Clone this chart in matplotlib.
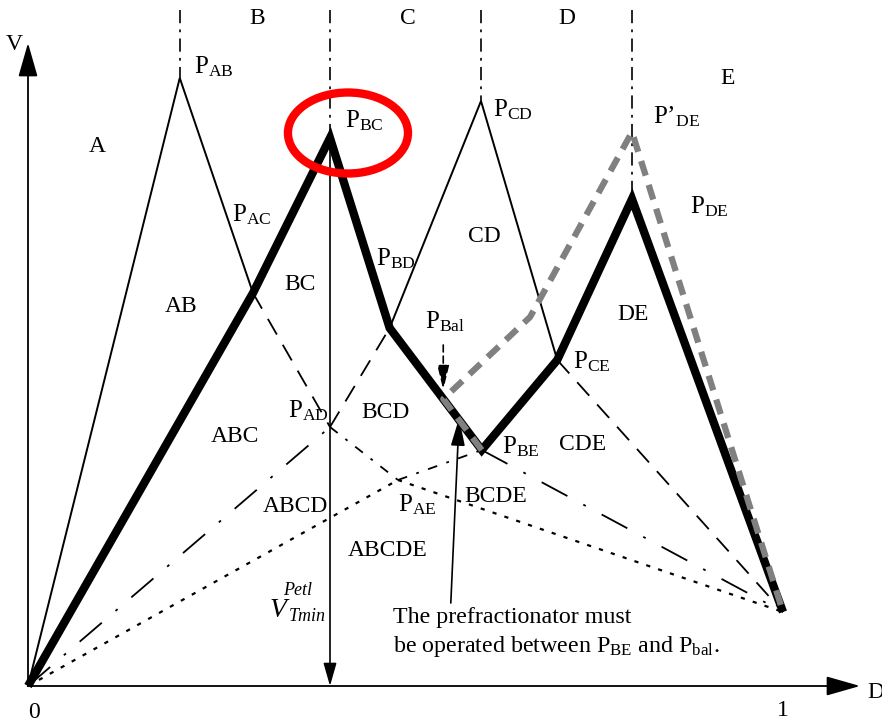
import matplotlib
matplotlib.use('Agg')
import matplotlib.pyplot as plt
from matplotlib.patches import Ellipse

plt.rcParams['font.family'] = ['Liberation Serif', 'DejaVu Serif']
plt.rcParams['mathtext.fontset'] = 'custom'
plt.rcParams['mathtext.rm'] = 'Liberation Serif'
plt.rcParams['mathtext.it'] = 'Liberation Serif:italic'
plt.rcParams['lines.scale_dashes'] = False

# Vmin diagram points, (D, V)
origin = (0.0, 0.0)
p_ab = (0.201, 6.08)
p_ac = (0.298, 3.93)
p_bc = (0.400, 5.48)
p_ad = (0.400, 2.59)
p_bd = (0.479, 3.58)
p_ae = (0.490, 2.06)
p_cd = (0.600, 5.85)
p_be = (0.601, 2.36)
p_ce = (0.701, 3.26)
p_de = (0.800, 4.87)
p_de2 = (0.800, 5.54)     # P'_DE
p_bal = (0.550, 2.87)
p_kink = (0.665, 3.69)    # bend of the prefractionator path
end = (1.0, 0.74)
v_top = 6.76              # top of the vertical split lines

# line groups
thin_solid = [[origin, p_ab, p_ac], [p_bd, p_cd, p_ce]]
dashed = [[p_ac, p_ad], [p_ad, p_bd], [p_ce, end]]
long_dashdot = [[origin, p_ad], [p_be, end]]
short_dashdot = [[p_ad, p_ae], [p_ae, p_be]]
dotted = [[origin, p_ae], [p_ae, end]]
bold = [origin, p_ac, p_bc, p_bd, p_be, p_ce, p_de, end]
grey_path = [p_be, p_bal, p_kink, p_de2, end]
peaks = [p_ab, p_bc, p_cd, p_de]

fig = plt.figure(figsize=(8.82, 7.24), dpi=100)
ax = fig.add_axes([0, 0, 1, 1])
ax.set_xlim(-28 / 755, 854 / 755)
ax.set_ylim(-0.38, 6.86)
ax.axis('off')


def draw(pts, **kw):
    xs = [p[0] for p in pts]
    ys = [p[1] for p in pts]
    ax.plot(xs, ys, color='black', **kw)


for seg in thin_solid:
    draw(seg, lw=1.4, solid_joinstyle='miter')
for seg in dashed:
    draw(seg, lw=1.3, ls=(0, (13, 8.5)))
for seg in long_dashdot:
    draw(seg, lw=1.3, ls=(0, (21, 13, 2, 13)))
for seg in short_dashdot:
    draw(seg, lw=1.3, ls=(0, (7, 7, 2, 7)))
for seg in dotted:
    draw(seg, lw=1.6, ls=(0, (3, 6)))

# vertical split lines above the peaks
for p in peaks:
    draw([(p[0], v_top), p], lw=1.2, ls=(0, (9.5, 4.5, 2, 4.5)))

draw(bold, lw=6, solid_joinstyle='miter', solid_capstyle='butt', zorder=3)
xs = [p[0] for p in grey_path]
ys = [p[1] for p in grey_path]
ax.plot(xs, ys, color='#808080', lw=4.5, ls=(0, (11, 7)),
        dash_capstyle='butt', zorder=4)

# axes arrows
arrow = dict(arrowstyle='-|>,head_length=21,head_width=6', mutation_scale=1,
             color='black', lw=1.3, shrinkA=0, shrinkB=0)
ax.annotate('', xy=(0, 6.43), xytext=origin, arrowprops=arrow)
ax.annotate('', xy=(1.102, 0), xytext=origin, arrowprops=arrow)

# V_Tmin arrow from P_BC down to the D axis
ax.annotate('', xy=(p_bc[0], 0), xytext=p_bc,
            arrowprops=dict(arrowstyle='-|>,head_length=14,head_width=4',
                            mutation_scale=1, color='black', lw=1.2,
                            shrinkA=0, shrinkB=0))

# P_Bal pointer
ax.annotate('', xy=(p_bal[0], 2.96), xytext=(p_bal[0], 3.41),
            arrowprops=dict(arrowstyle='-|>,head_length=15,head_width=3.6',
                            mutation_scale=1, color='black', lw=1.2,
                            ls=(0, (5, 3)), shrinkA=0, shrinkB=0))

# note arrow
ax.annotate('', xy=(0.571, 2.68), xytext=(0.560, 0.83),
            arrowprops=dict(arrowstyle='-|>,head_length=17,head_width=4.3',
                            mutation_scale=1, color='black', lw=1.2,
                            shrinkA=0, shrinkB=0))

ax.add_patch(Ellipse((0.4238, 5.53), 0.159, 0.81, fill=False,
                     edgecolor='red', lw=6, zorder=5))

# region labels
regions = {
    'A': (0.0914, 5.39), 'B': (0.303, 6.68), 'C': (0.503, 6.68),
    'D': (0.714, 6.68), 'E': (0.926, 6.07),
    'AB': (0.203, 3.80), 'BC': (0.360, 4.01), 'CD': (0.605, 4.49),
    'DE': (0.801, 3.72), 'ABC': (0.274, 2.50), 'BCD': (0.473, 2.74),
    'CDE': (0.734, 2.42), 'ABCD': (0.354, 1.79), 'BCDE': (0.619, 1.90),
    'ABCDE': (0.477, 1.36),
}
for name, (x, y) in regions.items():
    ax.text(x, y, name, fontsize=17, ha='center', va='center')

# pinch point labels
pinch = [
    ('P$_{\\mathrm{AB}}$', 0.220, 6.13),
    ('P$_{\\mathrm{AC}}$', 0.270, 4.65),
    ('P$_{\\mathrm{BC}}$', 0.420, 5.59),
    ('P$_{\\mathrm{BD}}$', 0.461, 4.21),
    ('P$_{\\mathrm{CD}}$', 0.616, 5.70),
    ('P\u2019$_{\\mathrm{DE}}$', 0.828, 5.63),
    ('P$_{\\mathrm{DE}}$', 0.877, 4.73),
    ('P$_{\\mathrm{Bal}}$', 0.526, 3.58),
    ('P$_{\\mathrm{AD}}$', 0.344, 2.69),
    ('P$_{\\mathrm{AE}}$', 0.490, 1.75),
    ('P$_{\\mathrm{BE}}$', 0.628, 2.33),
    ('P$_{\\mathrm{CE}}$', 0.722, 3.18),
]
for s, x, y in pinch:
    ax.text(x, y, s, fontsize=18, ha='left', va='baseline', zorder=6)

# V^Petl_Tmin, with the scripts stacked after the V
ax.text(0.3205, 0.69, 'V', fontsize=20, style='italic', ha='left',
        va='baseline')
ax.text(0.3377, 0.91, 'Petl', fontsize=13, style='italic', ha='left',
        va='baseline')
ax.text(0.3457, 0.65, 'Tmin', fontsize=13, style='italic', ha='left',
        va='baseline')

ax.text(0.4834, 0.63, 'The prefractionator must', fontsize=17.3,
        ha='left', va='baseline')
ax.text(0.4834, 0.34, r'be operated between P$_{\mathrm{BE}}$ and P$_{\mathrm{bal}}$.',
        fontsize=17.3, ha='left', va='baseline')

ax.text(-0.0185, 6.41, 'V', fontsize=17, ha='center', va='center')
ax.text(1.112, -0.07, 'D', fontsize=17, ha='left', va='center')
ax.text(0.008, -0.26, '0', fontsize=17, ha='center', va='center')
ax.text(1.0, -0.25, '1', fontsize=17, ha='center', va='center')

fig.savefig('out.png', dpi=100)
